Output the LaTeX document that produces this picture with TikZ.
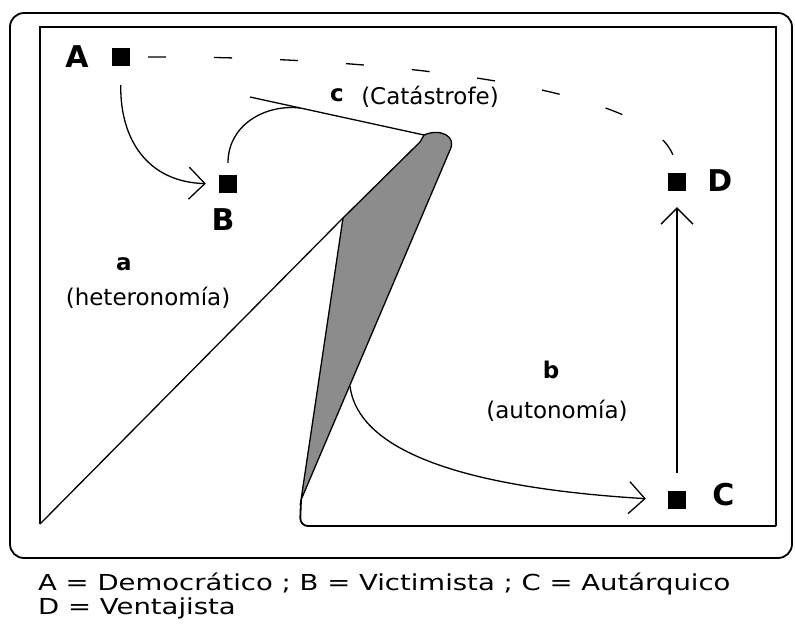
\documentclass[tikz,border=0pt]{standalone}
\usepackage{fontspec}
\setmainfont{DejaVu Sans}
\newfontfamily\legendfont[FakeStretch=1.25]{DejaVu Sans}
\usetikzlibrary{arrows.meta, positioning, calc}

\begin{document}
\begin{tikzpicture}[x=1pt, y=-1pt,
    >={Straight Barb[length=16pt, width=32pt]},
    frame/.style={line width=1.8pt},
    ln/.style={line width=1.3pt},
    arr/.style={ln, ->},
    sq/.style={fill=black, minimum size=18pt, inner sep=0pt},
    tag/.style={font=\bfseries\fontsize{30}{32}\selectfont, inner sep=0pt},
    zone/.style={font=\fontsize{23}{26}\selectfont},
    zonetag/.style={font=\bfseries\fontsize{23}{26}\selectfont},
    legend/.style={font=\legendfont\fontsize{22}{24}\selectfont, anchor=base west, inner sep=0pt},
]
\useasboundingbox (0,0) rectangle (795,633);
% === Frames ===
\draw[frame, rounded corners=14pt] (10,13) rectangle (792,558);
\draw[frame] (40,524) -- (40,27) -- (776,27) -- (776,526);
% === Fold of the surface (shaded sliver) ===
\coordinate (corner) at (40,524);
\coordinate (notch) at (343,218);
\coordinate (tipL) at (420,142);
\coordinate (ctop) at (424,135);
\coordinate (tipR) at (450,150);
\coordinate (bot) at (301,500);
\coordinate (kink) at (350,386);
\coordinate (cstart) at (250,97);
\coordinate (cjoin) at (300,108);
\draw[ln, fill=black!45] (notch) -- (tipL) -- (ctop) .. controls (440,128) and (457,136) .. (tipR) -- (bot) -- cycle;
\draw[ln] (corner) -- (notch);
\draw[frame, rounded corners=8pt] (776,526) -- (300,526) -- (bot);
\draw[ln] (cstart) -- (ctop);
% === States ===
\node[sq] (A) at (121,57) {};
\node[sq] (B) at (228,184) {};
\node[sq] (C) at (677,500) {};
\node[sq] (D) at (677,182) {};
\node[tag, left=23pt of A] (Atag) {A};
\node[tag, below=15pt of B, xshift=-5pt] (Btag) {B};
\node[tag, right=26pt of C, yshift=5pt] (Ctag) {C};
\node[tag, right=21pt of D, yshift=1pt] (Dtag) {D};
% === Paths between states ===
\draw[arr, shorten <=19pt, shorten >=13pt] (A.south) .. controls (120,140) and (148,182) .. (B.west);
\draw[ln, shorten <=12pt] (B.north) .. controls (228,125) and (265,104) .. (cjoin);
\draw[ln, dash pattern=on 18pt off 48pt, shorten <=18pt, shorten >=13pt] (A.east) .. controls (400,56) and (660,90) .. (D.north);
\draw[arr, shorten >=22pt] (kink) .. controls (356,435) and (420,485) .. (C.west);
\draw[arr, shorten <=18pt, shorten >=16pt] (C) -- (D);
% === Regions ===
\node[zonetag] (atag) at (124,264) {a};
\node[zone] (azone) at (148,298) {(heteronomía)};
\node[zonetag] (btag) at (551,370) {b};
\node[zone] (bzone) at (557,411) {(autonomía)};
\node[zonetag] (ctag) at (337,95) {c};
\node[zone] (czone) at (430,97) {(Catástrofe)};
% === Key ===
\node[legend] (leg1) at (38,590) {A = Democrático ; B = Victimista ; C = Autárquico};
\node[legend] (leg2) at (38,614) {D = Ventajista};
\end{tikzpicture}
\end{document}
